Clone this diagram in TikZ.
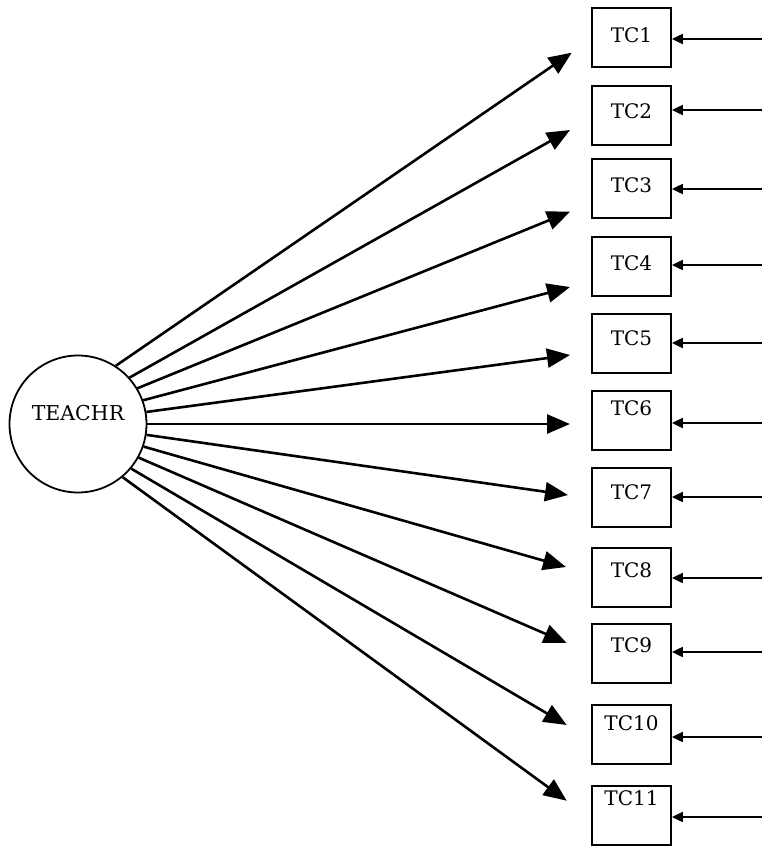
\documentclass[tikz,border=0pt]{standalone}
\usepackage{fontspec}
\setmainfont{DejaVu Serif}
\usetikzlibrary{arrows.meta,calc}
\begin{document}
\begin{tikzpicture}[x=1pt,y=-1pt,
  box/.style={draw,line width=1.8pt,rectangle,minimum width=79pt,minimum height=59pt,inner sep=0pt,anchor=north},
  lbl/.style={font=\fontsize{20}{22}\selectfont,inner sep=0pt},
  latent/.style={draw,line width=1.8pt,circle,minimum size=137pt,inner sep=0pt,font=\fontsize{20.5}{24}\selectfont,text height=15pt,text depth=22pt},
  mainarrow/.style={line width=2.6pt,-{Triangle[length=23pt,width=19pt]}},
  inarrow/.style={line width=2pt,-{Triangle[length=11pt,width=10pt]}}
]
\useasboundingbox (0,0) rectangle (762,846);
\node[latent] (T) at (78,424) {TEACHR};

% boxes
\foreach \i/\top/\ty in {1/7/28,2/85/26,3/158/27,4/236/27,5/313/25,6/390/18,7/467/25,8/547/23,9/623/22,10/704/19,11/785/13}{
  \node[box] (tc\i) at (631.5,\top) {};
  \node[lbl] (l\i) at ($(tc\i.north)+(0,\ty)$) {TC\i};
}

% arrow tips
\coordinate (a1) at (571.7,52.7);
\coordinate (a2) at (570,130);
\coordinate (a3) at (570,211.7);
\coordinate (a4) at (570,287);
\coordinate (a5) at (570,355);
\coordinate (a6) at (570,424);
\coordinate (a7) at (568,495);
\coordinate (a8) at (566,567);
\coordinate (a9) at (566.7,643);
\coordinate (a10) at (566.7,725);
\coordinate (a11) at (566.7,800.7);

\foreach \i/\ang in {1/57,2/42,3/31,4/20,5/10.5,6/0,7/-9,8/-19.5,9/-29,10/-40,11/-50}{
  \draw[mainarrow] (T.\ang) -- (a\i);
}

% error arrows on the right
\foreach \i/\yy in {1/39,2/110,3/189,4/265,5/343,6/423,7/497,8/578,9/652,10/737,11/817}{
  \coordinate (r\i) at (762,\yy);
  \draw[inarrow] (r\i) -- (tc\i.east |- r\i);
}
\end{tikzpicture}
\end{document}
